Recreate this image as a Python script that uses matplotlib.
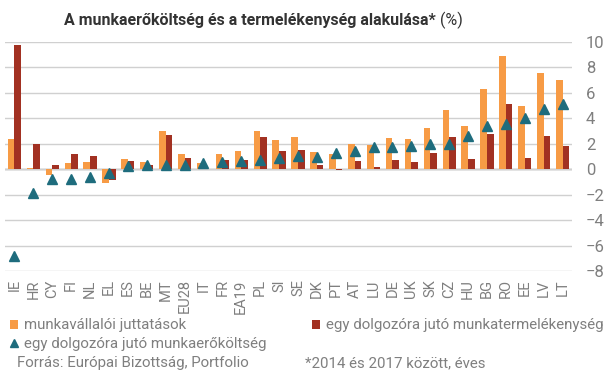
import numpy as np
import matplotlib.pyplot as plt

orszagok = ["IE", "HR", "CY", "FI", "NL", "EL", "ES", "BE", "MT", "EU28",
            "IT", "FR", "EA19", "PL", "SI", "SE", "DK", "PT", "AT", "LU",
            "DE", "UK", "SK", "CZ", "HU", "BG", "RO", "EE", "LV", "LT"]

# munkavállalói juttatások
juttatas = [2.4, 0.1, -0.45, 0.5, 0.58, -1.08, 0.8, 0.58, 3.0, 1.2,
            0.5, 1.2, 1.44, 3.0, 2.3, 2.55, 1.36, 1.2, 2.0, 1.92,
            2.47, 2.39, 3.25, 4.67, 3.41, 6.33, 8.87, 4.99, 7.53, 7.03]
# egy dolgozóra jutó munkatermelékenység
termelekenyseg = [9.79, 2.0, 0.34, 1.2, 1.05, -0.84, 0.66, 0.34, 2.7, 0.9,
                  0.05, 0.73, 0.73, 2.55, 1.44, 1.52, 0.34, -0.1, 0.66, 0.18,
                  0.73, 0.58, 1.29, 2.55, 0.81, 2.78, 5.14, 0.89, 2.62, 1.84]
# egy dolgozóra jutó munkaerőköltség
koltseg = [-6.85, -1.9, -0.8, -0.75, -0.65, -0.27, 0.25, 0.3, 0.3, 0.3,
           0.47, 0.55, 0.63, 0.7, 0.87, 1.02, 1.0, 1.26, 1.42, 1.73,
           1.73, 1.8, 1.97, 1.97, 2.6, 3.39, 3.54, 4.02, 4.72, 5.12]

narancs = "#F79B45"
bordo = "#A23122"
kek = "#1E6C7D"
szurke = "#7F7F7F"

plt.rcParams['font.family'] = ['Roboto', 'DejaVu Sans']

fig = plt.figure(figsize=(6.05, 3.79), dpi=100)
ax = fig.add_axes([5/605, 1 - 271/379, 567/605, 229/379])

x = np.arange(len(orszagok))
w = 0.35
b1 = ax.bar(x - w/2, juttatas, w, color=narancs, zorder=2)
b2 = ax.bar(x + w/2, termelekenyseg, w, color=bordo, zorder=2)
l3, = ax.plot(x, koltseg, linestyle="none", marker="^", markersize=6.5, color=kek, zorder=3)

ax.set_xlim(-0.5, len(orszagok) - 0.5)
ax.set_ylim(-8, 10)
ax.set_yticks(range(-8, 11, 2))
ax.yaxis.tick_right()
ax.grid(axis="y", color="#D0D0D0", linewidth=1, zorder=0)
ax.axhline(0, color="#8C8C8C", linewidth=1, zorder=1)
for s in ax.spines.values():
    s.set_visible(False)
ax.tick_params(axis="y", length=0, pad=10, labelsize=12, labelcolor=szurke)
ax.set_xticks(x)
ax.set_xticklabels(orszagok, rotation=90, fontsize=10.5, color=szurke)
ax.tick_params(axis="x", length=0, pad=6)

fig.text(436/605, 1 - 20/379, "A munkaerőköltség és a termelékenység alakulása*",
         ha="right", va="center", fontsize=11.5, fontweight="bold", color="#333333")
fig.text(436/605, 1 - 20/379, " (%)", ha="left", va="center", fontsize=11.5, color="#333333")

# egy-egy jelmagyarázat elem külön, hogy a helye pontosan beállítható legyen
fs = 10.8
kw = dict(loc="center left", frameon=False, fontsize=fs, handlelength=0.55, handleheight=0.55,
          handletextpad=0.35, labelcolor=szurke, borderaxespad=0, borderpad=0)
fig.legend([b1], ["munkavállalói juttatások"], bbox_to_anchor=(10/605, 1 - 325.5/379), **kw)
fig.legend([b2], ["egy dolgozóra jutó munkatermelékenység"],
           bbox_to_anchor=(312/605, 1 - 325.5/379), **kw)
fig.legend([l3], ["egy dolgozóra jutó munkaerőköltség"],
           bbox_to_anchor=(10/605, 1 - 344/379), markerscale=0.8, **kw)

fig.text(17/605, 1 - 363/379, "Forrás: Európai Bizottság, Portfolio", fontsize=fs,
         color=szurke, va="center")
fig.text(305/605, 1 - 363/379, "*2014 és 2017 között, éves", fontsize=fs,
         color=szurke, va="center")

fig.savefig("out.png", dpi=100)
